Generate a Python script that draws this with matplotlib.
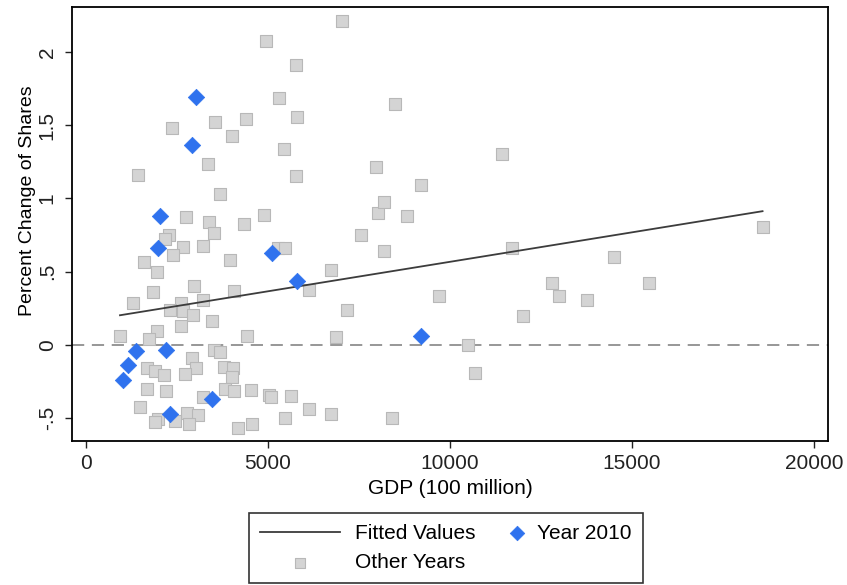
import numpy as np
import matplotlib
matplotlib.use('Agg')
import matplotlib.pyplot as plt
from matplotlib.legend_handler import HandlerPathCollection

plt.rcParams['font.family'] = ['Liberation Sans', 'DejaVu Sans']

# Year 2010 observations
gdp_2010 = [3013, 2920, 2025, 1970, 5101, 5788, 9211, 1365, 2206, 1162, 1025, 3453, 2307]
chg_2010 = [1.694, 1.363, 0.879, 0.664, 0.628, 0.438, 0.057, -0.041, -0.034, -0.137, -0.242, -0.375, -0.475]

# other years
gdp_other = [7041, 4945, 5761, 5302, 3552, 4404, 2354, 5788, 4002, 5447, 3351, 1420, 5761, 7980,
             3673, 2747, 3371, 4332, 4881, 8021, 8186, 8488, 9194, 8810, 11428, 2288, 3516, 7546,
             2170, 2673, 3222, 2398, 5274, 5458, 3947, 1593, 1942, 6730, 2975, 4074, 6118, 1840,
             1299, 2618, 3222, 2316, 2673, 2931, 7178, 3469, 2610, 1959, 926, 4431, 6859, 1739,
             3524, 3681, 2912, 3022, 1676, 1904, 2143, 2711, 3799, 4046, 4002, 1676, 2206, 3810,
             4074, 4533, 5035, 5074, 5640, 3222, 1492, 2766, 3085, 1986, 1904, 2437, 2829, 4184,
             4552, 5475, 6134, 6738, 8178, 11702, 14496, 9697, 12801, 13002, 13754, 15466, 11996,
             10494, 10694, 8414, 18588]
chg_other = [2.214, 2.075, 1.911, 1.690, 1.523, 1.546, 1.482, 1.560, 1.429, 1.336, 1.233, 1.164, 1.151, 1.212,
             1.032, 0.870, 0.840, 0.824, 0.884, 0.903, 0.979, 1.646, 1.094, 0.881, 1.306, 0.753, 0.765, 0.747,
             0.724, 0.669, 0.676, 0.614, 0.660, 0.660, 0.577, 0.566, 0.500, 0.509, 0.399, 0.368, 0.375, 0.363,
             0.288, 0.288, 0.306, 0.235, 0.228, 0.205, 0.238, 0.162, 0.128, 0.096, 0.062, 0.062, 0.055, 0.036,
             -0.036, -0.048, -0.091, -0.158, -0.158, -0.178, -0.208, -0.199, -0.151, -0.158, -0.224, -0.306, -0.320, -0.306,
             -0.320, -0.308, -0.347, -0.361, -0.354, -0.356, -0.425, -0.471, -0.484, -0.512, -0.527, -0.525, -0.543, -0.573,
             -0.546, -0.502, -0.438, -0.473, 0.642, 0.660, 0.603, 0.331, 0.423, 0.334, 0.308, 0.423, 0.194,
             -0.005, -0.194, -0.500, 0.803]

# fitted line (endpoints)
fit_x = [934, 18588]
fit_y = [0.201, 0.913]

xticks = [0, 5000, 10000, 15000, 20000]
yticks = [-0.5, 0, 0.5, 1, 1.5, 2]
ytick_labels = ['-.5', '0', '.5', '1', '1.5', '2']


class RightMarker(HandlerPathCollection):
    # put the diamond at the right end of the handle box, like Stata does
    def get_xdata(self, legend, xdescent, ydescent, width, height, fontsize):
        xdata, xm = super().get_xdata(legend, xdescent, ydescent, width, height, fontsize)
        return xdata, [-xdescent + width - 0.25 * fontsize]


fig = plt.figure(figsize=(8.47, 5.85), dpi=100)
ax = fig.add_axes([0.085, 0.246, 0.8925, 0.742])

ax.axhline(0, color='#7a7a7a', lw=1.1, dashes=(8, 5), zorder=1)
sq = ax.scatter(gdp_other, chg_other, marker='s', s=80, color='#d4d4d4',
                edgecolors='#b8b8b8', linewidths=0.8, zorder=2, label='Other Years')
fit_line, = ax.plot(fit_x, fit_y, color='#3c3c3c', lw=1.3, zorder=3, label='Fitted Values')
dia = ax.scatter(gdp_2010, chg_2010, marker='D', s=70, color='#2f72ee',
                 edgecolors='#2f72ee', linewidths=0.5, zorder=4, label='Year 2010')

ax.set_xlim(-385, 20385)
ax.set_ylim(-0.66, 2.31)
ax.set_xticks(xticks)
ax.set_xticklabels([str(t) for t in xticks])
ax.set_yticks(yticks)
ax.set_yticklabels(ytick_labels, rotation=90, va='center')
ax.tick_params(direction='out', length=5, width=1, labelsize=15, colors='#222222')
ax.tick_params(axis='x', pad=4)
ax.tick_params(axis='y', pad=6)
for s in ax.spines.values():
    s.set_linewidth(1.3)
    s.set_color('black')

ax.set_xlabel('GDP (100 million)', fontsize=15)
ax.xaxis.set_label_coords(0.5, -0.088)
ax.set_ylabel('Percent Change of Shares', fontsize=14)
ax.yaxis.set_label_coords(-0.047, 0.553)

leg = fig.legend([fit_line, sq, dia], ['Fitted Values', 'Other Years', 'Year 2010'],
                 ncol=2, loc='upper left', bbox_to_anchor=(249 / 847, 1 - 513 / 585),
                 fontsize=15, frameon=True, fancybox=False, edgecolor='black',
                 handlelength=3.85, handletextpad=0.72, columnspacing=-1.6,
                 borderpad=0.52, labelspacing=0.5, borderaxespad=0,
                 handler_map={dia: RightMarker()})
leg.get_frame().set_linewidth(1.2)
for h in leg.legend_handles:
    if hasattr(h, 'set_sizes'):
        h.set_sizes([55])

fig.savefig('out.png', dpi=100)
